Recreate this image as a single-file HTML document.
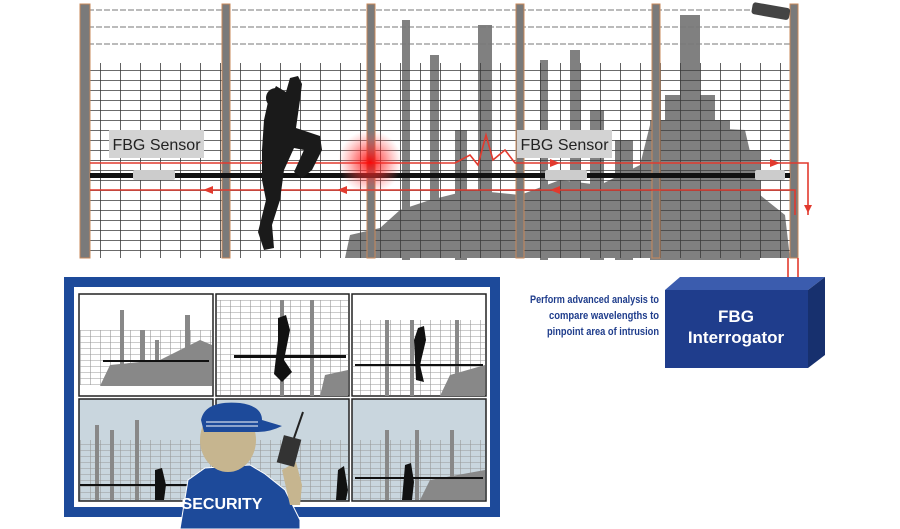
<!DOCTYPE html>
<html><head><meta charset="utf-8"><style>
html,body{margin:0;padding:0;background:#fff;width:900px;height:529px;overflow:hidden}
</style></head><body>
<svg width="900" height="529" viewBox="0 0 900 529" xmlns="http://www.w3.org/2000/svg" font-family="Liberation Sans, sans-serif">
<defs>
<pattern id="mesh" width="20" height="10" patternUnits="userSpaceOnUse">
<path d="M0.5 0V10M0 0.5H20" stroke="#3a3a3a" stroke-width="0.8" fill="none"/>
</pattern>
<pattern id="smesh" width="10" height="6" patternUnits="userSpaceOnUse">
<path d="M0.5 0V6M0 0.5H10" stroke="#999" stroke-width="0.6" fill="none"/>
</pattern>
<radialGradient id="glow"><stop offset="0" stop-color="#f00" stop-opacity="0.9"/><stop offset="0.5" stop-color="#f33" stop-opacity="0.5"/><stop offset="1" stop-color="#f66" stop-opacity="0"/></radialGradient>
</defs>

<!-- industrial silhouette -->
<g fill="#808080">
<rect x="478" y="25" width="14" height="233"/>
<rect x="430" y="55" width="9" height="200"/>
<rect x="402" y="20" width="8" height="240"/>
<rect x="540" y="60" width="8" height="200"/>
<rect x="570" y="50" width="10" height="200"/>
<rect x="590" y="110" width="14" height="150"/>
<rect x="615" y="140" width="18" height="120"/>
<rect x="680" y="15" width="20" height="240"/>
<rect x="665" y="95" width="50" height="165"/>
<rect x="650" y="120" width="80" height="140"/>
<rect x="720" y="150" width="40" height="110"/>
<rect x="455" y="130" width="12" height="130"/>
<path d="M345 258 L350 235 L380 228 L400 210 L430 200 L470 190 L520 195 L560 180 L600 185 L640 165 L650 125 L745 130 L760 195 L785 215 L790 258Z"/>
</g>
<!-- mesh -->
<rect x="88" y="63" width="706" height="195" fill="url(#mesh)"/>
<!-- barbed wires -->
<g stroke="#777" stroke-width="1" stroke-dasharray="6 2">
<line x1="88" y1="10" x2="795" y2="10"/><line x1="88" y1="27" x2="795" y2="27"/><line x1="88" y1="44" x2="795" y2="44"/>
</g>
<!-- posts -->
<g fill="#7a7a7a" stroke="#c8885a" stroke-width="1">
<rect x="80" y="4" width="10" height="254"/>
<rect x="222" y="4" width="8" height="254"/>
<rect x="367" y="4" width="8" height="254"/>
<rect x="516" y="4" width="8" height="254"/>
<rect x="652" y="4" width="8" height="254"/>
<rect x="790" y="4" width="8" height="254"/>
</g>
<!-- camera -->
<rect x="752" y="5" width="38" height="12" rx="3" fill="#444" transform="rotate(10 770 10)"/>
<!-- black cable -->
<rect x="90" y="173" width="700" height="5" fill="#111"/>
<rect x="133" y="170" width="42" height="10" fill="#ccc" rx="2"/>
<rect x="545" y="170" width="42" height="10" fill="#ccc" rx="2"/>
<rect x="755" y="170" width="30" height="10" fill="#ccc" rx="2"/>
<!-- red lines -->
<g stroke="#e23a2e" stroke-width="1.6" fill="none">
<polyline points="90,163 455,163 470,155 478,165 486,135 493,160 505,150 515,163 808,163 808,215"/>
<polyline points="90,190 795,190 795,215"/>
<line x1="788" y1="258" x2="788" y2="280"/><line x1="798" y1="258" x2="798" y2="280"/>
</g>
<g fill="#e23a2e">
<path d="M203 190 l10 -4 v8z"/><path d="M337 190 l10 -4 v8z"/><path d="M550 190 l10 -4 v8z"/><path d="M560 163 l-10 -4 v8z"/><path d="M780 163 l-10 -4 v8z"/><path d="M804 205 l4 8 l4 -8z"/>
</g>
<circle cx="370" cy="162" r="32" fill="url(#glow)"/>
<!-- climber -->
<path fill="#1a1a1a" d="M290 78 L298 76 L302 84 L300 100 L296 128 L320 136 L322 150 L312 170 L302 178 L294 172 L304 150 L294 148 L284 170 L280 200 L272 225 L274 248 L264 250 L258 232 L266 200 L262 180 L262 150 L264 120 L268 102 L276 86 L286 92 Z"/>
<circle cx="276" cy="98" r="10" fill="#1a1a1a"/>
<!-- labels -->
<rect x="109" y="130" width="95" height="28" fill="#d3d3d3"/>
<text x="156.5" y="150" font-size="16" fill="#222" text-anchor="middle">FBG Sensor</text>
<rect x="517" y="130" width="95" height="28" fill="#d3d3d3"/>
<text x="564.5" y="150" font-size="16" fill="#222" text-anchor="middle">FBG Sensor</text>

<!-- text -->
<g font-size="11" fill="#1f3d8c" font-weight="bold" font-family="Liberation Sans Narrow, Liberation Sans, sans-serif">
<text x="530" y="303" textLength="129" lengthAdjust="spacingAndGlyphs">Perform advanced analysis to</text>
<text x="549" y="319" textLength="110" lengthAdjust="spacingAndGlyphs">compare wavelengths to</text>
<text x="547" y="335" textLength="112" lengthAdjust="spacingAndGlyphs">pinpoint area of intrusion</text>
</g>
<!-- interrogator -->
<path d="M665 290 L680 277 L825 277 L808 290Z" fill="#3b5cae"/>
<path d="M808 290 L825 277 L825 355 L808 368Z" fill="#17306e"/>
<rect x="665" y="290" width="143" height="78" fill="#1f3d8c"/>
<text x="736" y="322" font-size="17" font-weight="bold" fill="#fff" text-anchor="middle">FBG</text>
<text x="736" y="343" font-size="17" font-weight="bold" fill="#fff" text-anchor="middle">Interrogator</text>

<!-- monitor wall -->
<rect x="64" y="277" width="436" height="240" fill="#1d4a9a"/>
<rect x="74" y="287" width="416" height="220" fill="#fff"/>
<g stroke="#222" stroke-width="1.5">
<rect x="79" y="294" width="134" height="102" fill="#fff"/>
<rect x="216" y="294" width="133" height="102" fill="#fff"/>
<rect x="352" y="294" width="134" height="102" fill="#fff"/>
<rect x="79" y="399" width="134" height="102" fill="#c9d6de"/>
<rect x="216" y="399" width="133" height="102" fill="#c9d6de"/>
<rect x="352" y="399" width="134" height="102" fill="#c9d6de"/>
</g>
<g>
<rect x="80" y="330" width="132" height="55" fill="url(#smesh)"/>
<rect x="217" y="300" width="131" height="95" fill="url(#smesh)"/>
<rect x="353" y="320" width="132" height="75" fill="url(#smesh)"/>
<rect x="80" y="440" width="132" height="60" fill="url(#smesh)"/>
<rect x="217" y="440" width="131" height="60" fill="url(#smesh)"/>
<rect x="353" y="440" width="132" height="60" fill="url(#smesh)"/>
</g>
<g fill="#888">
<rect x="120" y="310" width="4" height="76"/><rect x="140" y="330" width="5" height="56"/><rect x="155" y="340" width="4" height="46"/><rect x="185" y="315" width="5" height="71"/>
<path d="M100 386 L110 365 L160 360 L200 340 L212 345 L212 386Z"/>
<rect x="280" y="300" width="4" height="96"/><rect x="310" y="300" width="4" height="96"/>
<path d="M320 396 L325 375 L348 370 L348 396Z"/>
<rect x="385" y="320" width="4" height="76"/><rect x="410" y="320" width="4" height="76"/><rect x="455" y="320" width="4" height="76"/>
<path d="M440 396 L450 375 L485 365 L485 396Z"/>
<rect x="95" y="425" width="4" height="75"/><rect x="110" y="430" width="4" height="70"/><rect x="135" y="420" width="4" height="80"/>
<rect x="385" y="430" width="4" height="70"/><rect x="415" y="430" width="4" height="70"/><rect x="450" y="430" width="4" height="70"/>
<path d="M420 500 L430 480 L485 470 L485 500Z"/>
</g>
<g fill="#111">
<rect x="103" y="360" width="106" height="2"/><rect x="234" y="355" width="112" height="3"/><rect x="355" y="364" width="128" height="2"/>
<rect x="80" y="484" width="130" height="2"/><rect x="355" y="477" width="128" height="2"/>
<path d="M278 318 L286 315 L290 330 L284 360 L292 372 L282 382 L274 374 L278 340Z"/>
<path d="M418 328 L424 326 L426 340 L420 365 L424 382 L416 380 L414 340Z"/>
<path d="M155 470 L162 468 L166 485 L164 500 L155 500Z"/>
<path d="M405 465 L411 463 L414 482 L412 500 L402 500Z"/>
<path d="M338 470 L344 466 L348 490 L346 500 L336 500Z"/>
</g>
<!-- guard -->
<path d="M180 529 L188 480 L205 468 L250 465 L265 474 L285 490 L300 520 L300 529Z" fill="#1d4a9a" stroke="#fff" stroke-width="1"/>
<ellipse cx="228" cy="440" rx="28" ry="32" fill="#c6b58f"/>
<path d="M282 470 L296 462 L302 485 L300 505 L290 505Z" fill="#c6b58f"/>
<path d="M201 420 Q205 400 240 403 Q262 406 262 420 L282 426 Q270 432 258 432 L204 432Z" fill="#1d4a9a"/>
<line x1="206" y1="422" x2="258" y2="422" stroke="#fff" stroke-width="1"/>
<line x1="206" y1="426" x2="258" y2="426" stroke="#fff" stroke-width="1"/>
<rect x="280" y="437" width="18" height="28" fill="#333" transform="rotate(15 289 451)"/>
<line x1="294" y1="438" x2="303" y2="412" stroke="#222" stroke-width="2"/>
<text x="222" y="509" font-size="16" font-weight="bold" fill="#fff" text-anchor="middle">SECURITY</text>
</svg>
</body></html>
